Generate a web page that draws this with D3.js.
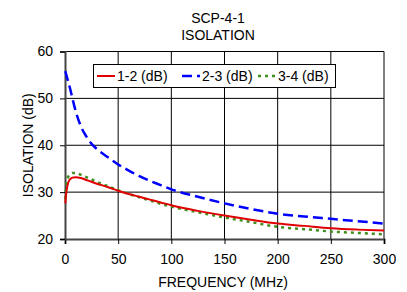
<!DOCTYPE html>
<html>
<head>
<meta charset="utf-8">
<script src="https://cdn.jsdelivr.net/npm/d3@7"></script>
<style>
  body { margin: 0; background: #fff; }
  svg { font-family: "Liberation Sans", Arial, sans-serif; }
</style>
</head>
<body>
<div id="chart"></div>
<script>
const freq = [0.3, 1, 2, 3, 5, 7, 10, 15, 20, 25, 30, 40, 50, 60, 70, 80, 90, 100, 125, 150, 175, 200, 225, 250, 275, 300];
const iso12 = [27.6, 29.5, 31.0, 32.0, 32.8, 33.1, 33.2, 33.0, 32.6, 32.2, 31.8, 31.1, 30.3, 29.6, 29.0, 28.4, 27.8, 27.2, 26.0, 25.0, 24.1, 23.3, 22.8, 22.3, 22.0, 21.8];
const iso23 = [55.8, 55.2, 54.4, 53.6, 51.9, 50.0, 47.3, 44.0, 41.9, 40.3, 39.2, 37.5, 35.9, 34.6, 33.4, 32.4, 31.5, 30.6, 29.0, 27.6, 26.4, 25.4, 24.8, 24.3, 23.8, 23.3];
const iso34 = [28.5, 31.0, 32.5, 33.3, 33.8, 34.1, 34.1, 33.7, 33.2, 32.7, 32.2, 31.3, 30.4, 29.6, 28.9, 28.2, 27.5, 26.9, 25.7, 24.6, 23.6, 22.6, 22.1, 21.6, 21.3, 21.0];
const seriesNames = ["1-2 (dB)", "2-3 (dB)", "3-4 (dB)"];
const xTicks = [0, 50, 100, 150, 200, 250, 300];
const yTicks = [20, 30, 40, 50, 60];

const width = 407, height = 292;
const margin = { top: 51.5, right: 23, bottom: 53, left: 65 };

const svg = d3.select("#chart").append("svg")
    .attr("width", width)
    .attr("height", height);

const x = d3.scaleLinear().domain([0, 300]).range([margin.left, width - margin.right]);
const y = d3.scaleLinear().domain([20, 60]).range([height - margin.bottom, margin.top]);

// grid
svg.append("g")
    .selectAll("line")
    .data(xTicks.slice(1))
    .join("line")
    .attr("x1", d => x(d)).attr("x2", d => x(d))
    .attr("y1", y(60)).attr("y2", y(20))
    .attr("stroke", "#000").attr("stroke-width", 1);

svg.append("g")
    .selectAll("line")
    .data(yTicks.slice(1))
    .join("line")
    .attr("x1", x(0)).attr("x2", x(300))
    .attr("y1", d => y(d)).attr("y2", d => y(d))
    .attr("stroke", "#000").attr("stroke-width", 1);

// axes
const xAxis = svg.append("g")
    .attr("transform", `translate(0,${y(20)})`)
    .call(d3.axisBottom(x).tickValues(xTicks).tickSize(5).tickPadding(10));
const yAxis = svg.append("g")
    .attr("transform", `translate(${x(0)},0)`)
    .call(d3.axisLeft(y).tickValues(yTicks).tickSize(5).tickPadding(7));

[xAxis, yAxis].forEach(a => {
    a.select(".domain").attr("stroke", "#444").attr("stroke-width", 2);
    a.selectAll(".tick line").attr("stroke", "#000");
    a.selectAll(".tick text").attr("font-size", 14).attr("fill", "#000")
        .attr("font-family", "Liberation Sans, Arial, sans-serif");
});

// series
const lineData = [
    { name: seriesNames[0], values: iso12, color: "#e00000", dash: null, w: 2 },
    { name: seriesNames[1], values: iso23, color: "#0000ff", dash: "10,5", w: 2.5 },
    { name: seriesNames[2], values: iso34, color: "#3f8f1f", dash: "3,4", w: 2.5 }
];

const line = d3.line()
    .x((d, i) => x(freq[i]))
    .y(d => y(d))
    .curve(d3.curveMonotoneX);

const plot = svg.append("g");
[lineData[2], lineData[0], lineData[1]].forEach(s => {
    plot.append("path")
        .datum(s.values)
        .attr("fill", "none")
        .attr("stroke", s.color)
        .attr("stroke-width", s.w)
        .attr("stroke-dasharray", s.dash)
        .attr("d", line);
});

// legend
const legend = svg.append("g");
legend.append("rect")
    .attr("x", 93.5).attr("y", 64.5)
    .attr("width", 242).attr("height", 23)
    .attr("fill", "#fff").attr("stroke", "#000");

const legendX = [97, 182, 258];
lineData.forEach((s, i) => {
    legend.append("line")
        .attr("x1", legendX[i]).attr("x2", legendX[i] + 18)
        .attr("y1", 76).attr("y2", 76)
        .attr("stroke", s.color)
        .attr("stroke-width", s.w)
        .attr("stroke-dasharray", s.dash);
    legend.append("text")
        .attr("x", legendX[i] + 20)
        .attr("y", 81)
        .attr("font-size", 14)
        .text(s.name);
});

// titles
svg.append("text")
    .attr("x", 218).attr("y", 23)
    .attr("text-anchor", "middle").attr("font-size", 14)
    .text("SCP-4-1");
svg.append("text")
    .attr("x", 218).attr("y", 40)
    .attr("text-anchor", "middle").attr("font-size", 14)
    .text("ISOLATION");
svg.append("text")
    .attr("x", 223).attr("y", 287)
    .attr("text-anchor", "middle").attr("font-size", 14)
    .text("FREQUENCY (MHz)");
svg.append("text")
    .attr("transform", `translate(33,${(y(20) + y(60)) / 2}) rotate(-90)`)
    .attr("text-anchor", "middle").attr("font-size", 14)
    .text("ISOLATION (dB)");
</script>
</body>
</html>
